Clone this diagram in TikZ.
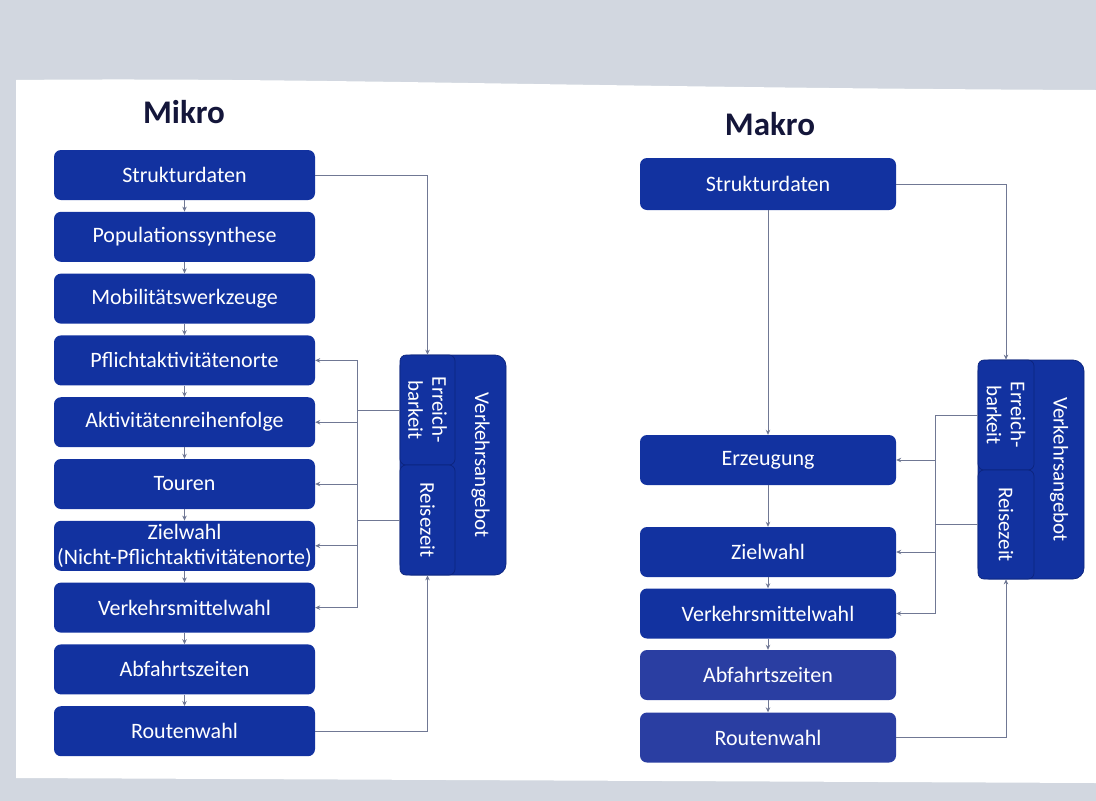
\documentclass[tikz,border=0pt]{standalone}
\usepackage{fontspec}
\setmainfont{Carlito}
\usetikzlibrary{arrows.meta,calc}
\definecolor{boxblue}{RGB}{18,50,160}
\definecolor{boxblueB}{RGB}{42,62,162}
\definecolor{boxedge}{RGB}{12,36,125}
\definecolor{linegray}{RGB}{112,120,148}
\definecolor{pagebg}{RGB}{210,215,224}
\definecolor{titlecol}{RGB}{20,22,58}
\tikzset{
  stepbox/.style={fill=boxblue, rounded corners=7pt, text=white,
    minimum height=50pt, inner sep=0pt, font=\fontsize{22}{25}\selectfont, align=center},
  leftbox/.style={stepbox, minimum width=261pt},
  rightbox/.style={stepbox, minimum width=256pt},
  vbox/.style={draw=boxedge, line width=0.7pt, fill=boxblue, text=white, inner sep=0pt,
    font=\fontsize{21}{24}\selectfont, align=center},
  vlabel/.style={text=white, font=\fontsize{21}{24}\selectfont, align=center, rotate=-90, inner sep=0pt},
  conn/.style={draw=linegray, line width=0.8pt},
  arr/.style={conn, -{Stealth[length=5pt,width=4.5pt]}},
  title/.style={font=\fontsize{33}{36}\selectfont\bfseries, text=titlecol, anchor=base, inner sep=0pt},
}
\begin{document}
\begin{tikzpicture}[x=1pt,y=-1pt]
\useasboundingbox (0,0) rectangle (1096,801);
\fill[pagebg] (0,0) rectangle (1096,801);
\fill[white] (16,80) .. controls (300,77) and (600,88) .. (1096,90) -- (1096,783) -- (16,778) -- cycle;

% titles
\node[title] (tMikro) at (184,123) {Mikro};
\node[title] (tMakro) at (770,135) {Makro};

% left column (Mikro)
\node[leftbox] (b1) at (184.5,175) {Strukturdaten};
\node[leftbox] (b2) at (184.5,236.8) {Populationssynthese};
\node[leftbox] (b3) at (184.5,298.6) {Mobilitätswerkzeuge};
\node[leftbox] (b4) at (184.5,360.4) {Pflichtaktivitätenorte};
\node[leftbox] (b5) at (184.5,422.2) {Aktivitätenreihenfolge};
\node[leftbox] (b6) at (184.5,484) {Touren};
\node[leftbox] (b7) at (184.5,545.8) {Zielwahl\\(Nicht-Pflichtaktivitätenorte)};
\node[leftbox] (b8) at (184.5,607.6) {Verkehrsmittelwahl};
\node[leftbox] (b9) at (184.5,669.4) {Abfahrtszeiten};
\node[leftbox] (b10) at (184.5,731.2) {Routenwahl};

\foreach \a/\b in {b1/b2,b2/b3,b3/b4,b4/b5,b5/b6,b6/b7,b7/b8,b8/b9,b9/b10}
  \draw[arr] (\a.south) -- (\b.north);

% left Verkehrsangebot block
\node[vbox, rounded corners=11pt, minimum width=106pt, minimum height=220pt] (vaL) at (453,465) {};
\node[vbox, rounded corners=6pt, minimum width=55pt, minimum height=110pt] (erL) at (427.5,410) {};
\node[vbox, rounded corners=6pt, minimum width=55pt, minimum height=110pt] (rzL) at (427.5,520) {};
\node[vlabel] (erLt) at (erL.center) {Erreich-\\barkeit};
\node[vlabel] (rzLt) at (rzL.center) {Reisezeit};
\node[vlabel] (vaLt) at (480.5,465) {Verkehrsangebot};

\coordinate (busL) at (357,0);
\draw[arr] (b1.east) -| (erL.north);
\draw[arr] (b10.east) -| (rzL.south);
\draw[conn] (erL.west) -- (erL.west -| busL);
\draw[conn] (rzL.west) -- (rzL.west -| busL);
\draw[conn] (b4.east -| busL) -- (b8.east -| busL);
\foreach \n in {b4,b5,b6,b7,b8}
  \draw[arr] (\n.east -| busL) -- (\n.east);

% right column (Makro)
\node[rightbox, minimum height=52pt] (r1) at (768,184) {Strukturdaten};
\node[rightbox] (r2) at (768,460) {Erzeugung};
\node[rightbox] (r3) at (768,552) {Zielwahl};
\node[rightbox] (r4) at (768,613.5) {Verkehrsmittelwahl};
\node[rightbox, fill=boxblueB] (r5) at (768,675) {Abfahrtszeiten};
\node[rightbox, fill=boxblueB] (r6) at (768,737.5) {Routenwahl};

\foreach \a/\b in {r1/r2,r2/r3,r3/r4,r4/r5,r5/r6}
  \draw[arr] (\a.south) -- (\b.north);

% right Verkehrsangebot block
\node[vbox, rounded corners=11pt, minimum width=106pt, minimum height=219pt] (vaR) at (1031,469.5) {};
\node[vbox, rounded corners=6pt, minimum width=56pt, minimum height=110pt] (erR) at (1006,415) {};
\node[vbox, rounded corners=6pt, minimum width=56pt, minimum height=109pt] (rzR) at (1006,524.5) {};
\node[vlabel] (erRt) at (erR.center) {Erreich-\\barkeit};
\node[vlabel] (rzRt) at (rzR.center) {Reisezeit};
\node[vlabel] (vaRt) at (1059,469.5) {Verkehrsangebot};

\coordinate (busR) at (935,0);
\draw[arr] (r1.east) -| (erR.north);
\draw[arr] (r6.east) -| (rzR.south);
\draw[conn] (erR.west) -- (erR.west -| busR);
\draw[conn] (rzR.west) -- (rzR.west -| busR);
\draw[conn] (erR.west -| busR) -- (r4.east -| busR);
\foreach \n in {r2,r3,r4}
  \draw[arr] (\n.east -| busR) -- (\n.east);
\end{tikzpicture}
\end{document}
